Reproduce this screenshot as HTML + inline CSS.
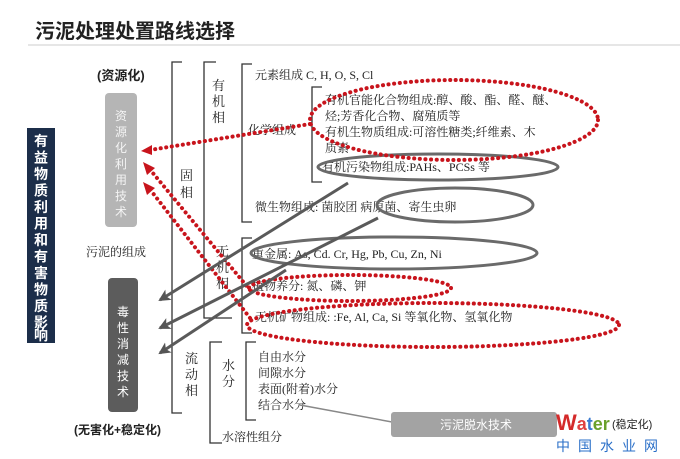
<!DOCTYPE html>
<html><head><meta charset="utf-8"><style>
html,body{margin:0;padding:0;background:#fff;}
svg{display:block;}
text{font-family:"Liberation Serif","Noto Serif CJK SC",serif;fill:#222;}
.s{font-family:"Liberation Sans","Noto Sans CJK SC",sans-serif;}
</style></head><body>
<svg width="680" height="459" viewBox="0 0 680 459" xmlns="http://www.w3.org/2000/svg">
<defs>
<marker id="ra" markerWidth="8" markerHeight="8" refX="6" refY="4" orient="auto" markerUnits="userSpaceOnUse"><path d="M0,0 L8,4 L0,8 Z" fill="#c0141c"/></marker>
<marker id="ga" markerWidth="14" markerHeight="12" refX="10" refY="6" orient="auto" markerUnits="userSpaceOnUse"><path d="M0,0 L12,6 L0,12 L3,6 Z" fill="#555"/></marker>
</defs>
<text x="35" y="38" class="s" font-size="20" font-weight="bold" fill="#111">污泥处理处置路线选择</text>
<line x1="28" y1="45" x2="680" y2="45" stroke="#ccc" stroke-width="1"/>

<rect x="27" y="128" width="28" height="215" fill="#1c2e4a"/>
<text class="s" font-size="14" font-weight="bold" style="fill:#fff">
<tspan x="34" y="146">有</tspan><tspan x="34" y="162.5">益</tspan><tspan x="34" y="179">物</tspan><tspan x="34" y="195.5">质</tspan><tspan x="34" y="212">利</tspan><tspan x="34" y="228.5">用</tspan><tspan x="34" y="245">和</tspan><tspan x="34" y="261.5">有</tspan><tspan x="34" y="278">害</tspan><tspan x="34" y="294.5">物</tspan><tspan x="34" y="311">质</tspan><tspan x="34" y="327.5">影</tspan><tspan x="34" y="340">响</tspan></text>
<text class="s" font-size="13" font-weight="bold" x="97" y="80" fill="#111">(资源化)</text>
<rect x="105" y="93" width="32" height="134" rx="4" fill="#b5b5b5"/>
<text class="s" font-size="12" style="fill:#f4f4f4"><tspan x="115" y="120">资</tspan><tspan x="115" y="136">源</tspan><tspan x="115" y="152">化</tspan><tspan x="115" y="168">利</tspan><tspan x="115" y="184">用</tspan><tspan x="115" y="200">技</tspan><tspan x="115" y="216">术</tspan></text>
<text font-size="12" x="86" y="256">污泥的组成</text>
<rect x="108" y="278" width="30" height="134" rx="4" fill="#5c5c5c"/>
<text class="s" font-size="12" style="fill:#fff"><tspan x="117" y="316">毒</tspan><tspan x="117" y="332">性</tspan><tspan x="117" y="348">消</tspan><tspan x="117" y="364">减</tspan><tspan x="117" y="380">技</tspan><tspan x="117" y="396">术</tspan></text>
<text class="s" font-size="12" font-weight="bold" x="74" y="434" fill="#111">(无害化+稳定化)</text>

<g stroke="#333" stroke-width="1.3" fill="none">
<path d="M182,62 H172 V413 H182"/>
<path d="M216,62 H204 V318 H232"/>
<path d="M252,64 H242 V222 H252"/>
<path d="M322,87 H312 V182 H322"/>
<path d="M252,238 H242 V333 H252"/>
<path d="M222,342 H210 V443 H222"/>
<path d="M256,342 H246 V420 H256"/>
</g>
<g font-size="13"><text x="212" y="90">有</text><text x="212" y="106">机</text><text x="212" y="122">相</text>
<text x="180" y="180">固</text><text x="180" y="197">相</text>
<text x="216" y="256">无</text><text x="216" y="272">机</text><text x="216" y="288">相</text>
<text x="185" y="363">流</text><text x="185" y="379">动</text><text x="185" y="395">相</text>
<text x="222" y="370">水</text><text x="222" y="386">分</text></g>
<g font-size="12">
<text x="255" y="79">元素组成 C, H, O, S, Cl</text>
<text x="248" y="134">化学组成</text>
<text x="325" y="104">有机官能化合物组成:醇、酸、酯、醛、醚、</text>
<text x="325" y="120">烃;芳香化合物、腐殖质等</text>
<text x="325" y="136">有机生物质组成:可溶性糖类;纤维素、木</text>
<text x="325" y="152">质素</text>
<text x="322" y="171">有机污染物组成:PAHs、PCSs 等</text>
<text x="255" y="211">微生物组成: 菌胶团  病原菌、寄生虫卵</text>
<text x="252" y="258">重金属: As, Cd. Cr, Hg, Pb, Cu, Zn, Ni</text>
<text x="252" y="290">植物养分: 氮、磷、钾</text>
<text x="255" y="321">无机矿物组成: :Fe, Al,   Ca,   Si 等氧化物、氢氧化物</text>
<text x="258" y="361">自由水分</text>
<text x="258" y="377">间隙水分</text>
<text x="258" y="393">表面(附着)水分</text>
<text x="258" y="409">结合水分</text>
<text x="222" y="441">水溶性组分</text>
</g>

<g fill="none" stroke="#6a6a6a" stroke-width="3">
<ellipse cx="438" cy="167" rx="120" ry="13"/>
<ellipse cx="455" cy="205" rx="78" ry="17"/>
<ellipse cx="394" cy="253" rx="143" ry="16"/>
</g>
<g fill="none" stroke="#c8141c" stroke-width="4" stroke-dasharray="0.1 5.5" stroke-linecap="round">
<ellipse cx="454" cy="120" rx="144" ry="40"/>
<ellipse cx="350" cy="288" rx="101" ry="13"/>
<ellipse cx="433" cy="325" rx="186" ry="22"/>
<path d="M310,124 L150,150"/>
<path d="M250,290 L152,172"/>
<path d="M250,318 L152,192"/>
</g>
<g fill="#c8141c">
<path d="M141,151 L152,145 L152,155 Z"/>
<path d="M143,162 L155,168 L147,175 Z"/>
<path d="M143,182 L155,188 L147,195 Z"/>
</g>
<g stroke="#5a5a5a" stroke-width="3" fill="none">
<path d="M348,183 L160,300" marker-end="url(#ga)"/>
<path d="M378,218 L160,328" marker-end="url(#ga)"/>
<path d="M286,270 L160,353" marker-end="url(#ga)"/>
</g>

<line x1="300" y1="405" x2="392" y2="422" stroke="#888" stroke-width="1.5"/>
<rect x="391" y="412" width="166" height="25" rx="3" fill="#a3a3a3"/>
<text class="s" font-size="12" x="440" y="429" style="fill:#fff">污泥脱水技术</text>

<text class="s" font-size="22" font-weight="bold" x="556" y="430" style="fill:#d42a2a">W<tspan style="fill:#e04040" font-size="18">a</tspan><tspan style="fill:#3a7ad0" font-size="18">t</tspan><tspan style="fill:#6aa02a" font-size="18">er</tspan></text>
<text class="s" font-size="11" x="612" y="428" fill="#222">(稳定化)</text>
<text class="s" font-size="14" x="556" y="451" style="fill:#2a6fc8" letter-spacing="8">中国水业网</text>
</svg>
</body></html>
